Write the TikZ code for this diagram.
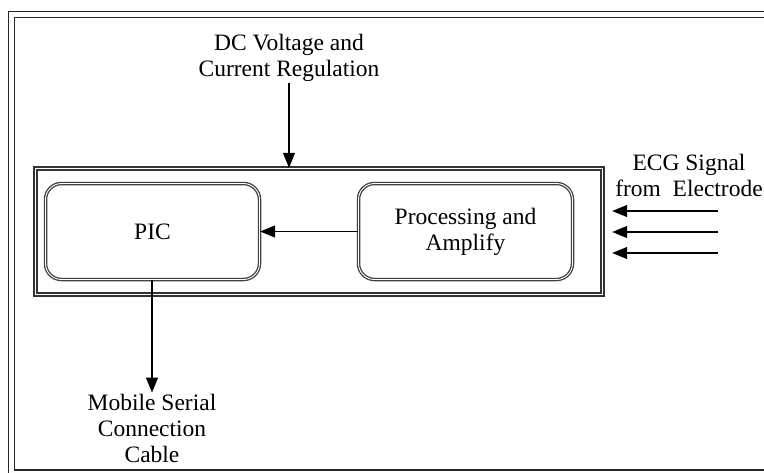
\documentclass[tikz,border=0pt]{standalone}
\usepackage{fontspec}
\setmainfont{Liberation Serif}
\usetikzlibrary{arrows.meta,positioning}

\tikzset{
    lbl/.style={align=center,inner sep=1pt,font=\fontsize{23.5}{26}\selectfont},
    blockbox/.style={draw=black!75,double,double distance=0.9pt,line width=1.3pt,
        rounded corners=16pt,minimum width=214pt,minimum height=96pt,
        align=center,font=\fontsize{23.5}{26}\selectfont},
    unitbox/.style={draw=black!80,double,double distance=1.3pt,line width=1.4pt,
        minimum width=567pt,minimum height=126pt},
    sig/.style={-{Triangle[length=15pt,width=12pt]},line width=1.2pt},
}

\begin{document}
\begin{tikzpicture}[x=1pt,y=-1pt]
    \useasboundingbox (0,0) rectangle (764,472);
    % page frame
    \draw[black!85,double,double distance=4.5pt,line width=1.5pt] (11.5,14.5) rectangle (768,473);

    \node[unitbox] (unit) at (319,231.5) {};
    \node[blockbox] (pic) at (152.5,231.5) {PIC};
    \node[blockbox] (proc) at (465.5,231.5) {Processing and\\Amplify};
    \draw[sig] (proc.west) -- (pic.east);

    % top
    \node[lbl] (dc) at (289,58) {DC Voltage and\\Current Regulation};
    \draw[sig] (dc.south) -- (dc.south |- unit.north);

    % right
    \node[lbl] (ecg) at (689,175) {ECG Signal\\from\ \ Electrode};
    \foreach \y [count=\i] in {211,232,253}
    {
        \coordinate (in\i) at (718,\y);
        \draw[sig,shorten >=9pt] (in\i) -- (in\i -| unit.east);
    }

    % bottom
    \node[lbl] (cable) at (152,428) {Mobile Serial\\Connection\\Cable};
    \draw[sig] (pic.south -| cable.north) -- (cable.north);
\end{tikzpicture}
\end{document}
